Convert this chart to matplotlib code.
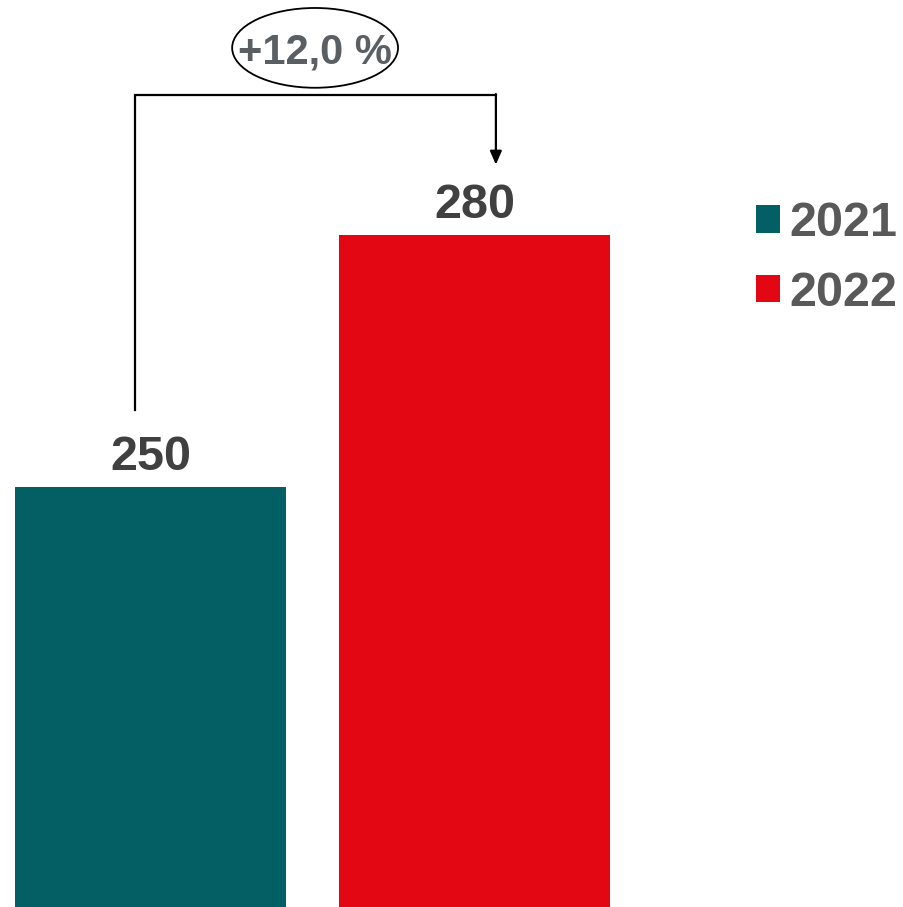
import matplotlib.pyplot as plt
from matplotlib.patches import Patch, Ellipse

# === DATA ===
years = ["2021", "2022"]
values = [250, 280]
colors = ["#035F63", "#E30613"]

# === STYLE ===
plt.rcParams['font.family'] = ['Liberation Sans', 'DejaVu Sans']
VALUE_COLOR = "#404040"
LEGEND_COLOR = "#595959"
PCT_COLOR = "#595F63"

fig = plt.figure(figsize=(9.04, 9.07), dpi=100)
ax = fig.add_axes([0, 0, 1, 1])

x = list(range(len(values)))
ax.bar(x, values, width=0.836, color=colors, zorder=2)

# value labels above bars
for xi, v in zip(x, values):
    ax.text(xi, v + 0.8, f"{v}", ha="center", va="bottom",
            fontsize=35, fontweight="bold", color=VALUE_COLOR)

# growth bracket from first bar to second
y_top = max(values) + 16.7
x_left = x[0] - 0.048
x_right = x[1] + 0.066
ax.plot([x_left, x_left, x_right], [values[0] + 9.2, y_top, y_top],
        color="black", lw=1.6, solid_joinstyle="miter", zorder=3)
ax.annotate("", xy=(x_right, values[1] + 8.4), xytext=(x_right, y_top + 0.1),
            arrowprops=dict(arrowstyle="-|>,head_length=0.8,head_width=0.35",
                            color="black", lw=1.6, shrinkA=0, shrinkB=0))

# growth percentage in an ellipse
growth = (values[1] - values[0]) / values[0] * 100
pct_label = f"+{growth:.1f} %".replace(".", ",")
cx, cy = (x[0] + x[1]) / 2 + 0.008, y_top + 5.6
ax.add_patch(Ellipse((cx, cy), 0.512, 9.5, facecolor="none",
                     edgecolor="black", lw=1.3, zorder=3))
ax.text(cx, cy, pct_label, ha="center", va="center_baseline",
        fontsize=30, fontweight="bold", color=PCT_COLOR, zorder=4)

# legend
handles = [Patch(facecolor=c, edgecolor="none") for c in colors]
leg = ax.legend(handles, years, loc="upper left", bbox_to_anchor=(0.836, 0.778),
                bbox_transform=fig.transFigure, frameon=False,
                prop=dict(size=35, weight="bold"), handlelength=0.5,
                handleheight=0.5, handletextpad=0.2, labelspacing=0.5,
                borderpad=0, borderaxespad=0)
for t in leg.get_texts():
    t.set_color(LEGEND_COLOR)

ax.set_xlim(-0.4645, 2.3256)
ax.set_ylim(200, 308)
ax.axis("off")

fig.savefig("out.png", dpi=100)
